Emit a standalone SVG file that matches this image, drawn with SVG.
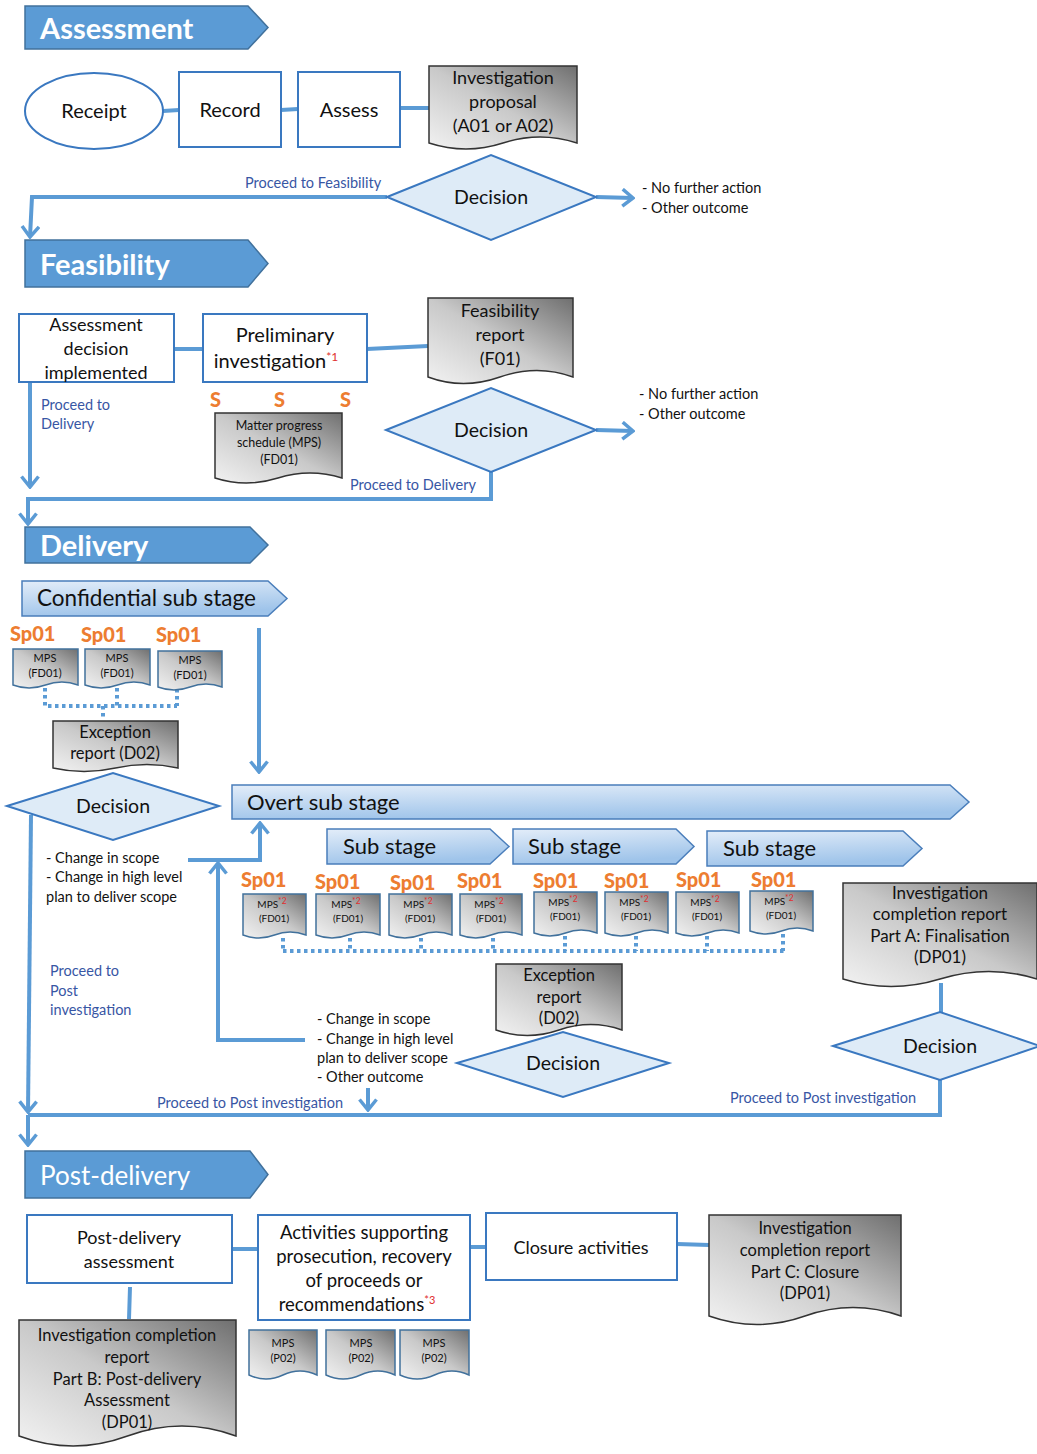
<svg xmlns="http://www.w3.org/2000/svg" width="1037" height="1454" viewBox="0 0 1037 1454">
<defs>
<linearGradient id="gd" x1="0" y1="1" x2="1" y2="0">
<stop offset="0" stop-color="#f2f2f2"/><stop offset="0.5" stop-color="#c9c9c9"/><stop offset="1" stop-color="#6f6f6f"/>
</linearGradient>
<linearGradient id="gs" x1="0" y1="0" x2="0.3" y2="1">
<stop offset="0" stop-color="#e3edf9"/><stop offset="1" stop-color="#9fc4ea"/>
</linearGradient>
<marker id="ar" viewBox="0 0 14 20" refX="12" refY="10" markerWidth="14" markerHeight="20" orient="auto" markerUnits="userSpaceOnUse">
<path d="M1.5,1.5 L12,10 L1.5,18.5" fill="none" stroke="#5B9BD5" stroke-width="3.5"/>
</marker>
<style>
text{font-family:Lato,"Liberation Sans",sans-serif;fill:#111}
.hdr{fill:#5B9BD5;stroke:#41719C;stroke-width:1.5}
.ht{fill:#fff;font-weight:bold;font-size:29px}
.sub{fill:url(#gs);stroke:#4a7ebb;stroke-width:1.5}
.st{font-size:22px}
.box{fill:#fff;stroke:#3a78c0;stroke-width:2}
.dia{fill:#deebf7;stroke:#3a78c0;stroke-width:2}
.doc{fill:url(#gd);stroke:#333;stroke-width:1.5}
.mdoc{fill:url(#gd);stroke:#41719C;stroke-width:1.5}
.n{font-size:18.5px;text-anchor:middle}
.n17{font-size:18px;text-anchor:middle}
.n15{font-size:16.5px;text-anchor:middle}
.dt{font-size:19.5px;text-anchor:middle}
.sm{font-size:14.5px}
.pl{font-size:14.5px;fill:#3856a4}
.sp{font-size:20px;font-weight:900;fill:#ED7D31}
.mp{font-size:11px;text-anchor:middle}
.mp2{font-size:10px;text-anchor:middle}
.red{fill:#e03030}
.cn{fill:none;stroke:#5B9BD5;stroke-width:4}
.dot{fill:none;stroke:#5B9BD5;stroke-width:4;stroke-dasharray:3.5,3.5}
</style>
</defs>
<rect width="1037" height="1454" fill="#fff"/>

<g id="connectors">
<path class="cn" d="M163,111 L179,110"/>
<path class="cn" d="M281,110 L298,109"/>
<path class="cn" d="M400,108 L429,108"/>
<path class="cn" d="M596,197 L633,198" marker-end="url(#ar)"/>
<path class="cn" d="M387,197 L32,197 L30,237" marker-end="url(#ar)"/>
<path class="cn" d="M174,349 L203,349"/>
<path class="cn" d="M367,349 L428,346"/>
<path class="cn" d="M596,430 L633,431" marker-end="url(#ar)"/>
<path class="cn" d="M30,382 L30,487" marker-end="url(#ar)"/>
<path class="cn" d="M491,472 L491,499 L28,499 L28,524" marker-end="url(#ar)"/>
<path class="cn" d="M259,628 L259,772" marker-end="url(#ar)"/>
<path class="cn" d="M31,815 L28,1112" marker-end="url(#ar)"/>
<path class="cn" d="M28,1115 L940,1115 L940,1080"/>
<path class="cn" d="M28,1115 L28,1145" marker-end="url(#ar)"/>
<path class="cn" d="M305,1040 L218,1040 L218,863" marker-end="url(#ar)"/>
<path class="cn" d="M188,860 L260,860 L260,823" marker-end="url(#ar)"/>
<path class="cn" d="M368,1088 L368,1110" marker-end="url(#ar)"/>
<path class="cn" d="M941,983 L941,1012"/>
<path class="cn" d="M232,1249 L258,1249"/>
<path class="cn" d="M470,1247 L486,1247"/>
<path class="cn" d="M677,1244 L709,1245"/>
<path class="cn" d="M130,1287 L129,1319"/>
<path class="dot" d="M45,688 V706 H177 M117,688 V706 M177,689 V706 M103,706 V720"/>
<path class="dot" d="M283,951 H785 M283,938 V951 M350,938 V951 M421,938 V951 M493,938 V951 M565,936 V951 M636,936 V951 M707,936 V951 M783,934 V951"/>
</g>

<g id="lbl-conn">
<text class="pl" x="245" y="188">Proceed to Feasibility</text>
<text class="pl" x="41" y="410">Proceed to</text>
<text class="pl" x="41" y="429">Delivery</text>
<text class="pl" x="350" y="490">Proceed to Delivery</text>
<text class="pl" x="50" y="976">Proceed to</text>
<text class="pl" x="50" y="996">Post</text>
<text class="pl" x="50" y="1015">investigation</text>
<text class="pl" x="157" y="1108">Proceed to Post investigation</text>
<text class="pl" x="730" y="1103">Proceed to Post investigation</text>
<text class="sm" x="642" y="193">- No further action</text>
<text class="sm" x="642" y="213">- Other outcome</text>
<text class="sm" x="639" y="399">- No further action</text>
<text class="sm" x="639" y="419">- Other outcome</text>
<text class="sm" x="46" y="863">- Change in scope</text>
<text class="sm" x="46" y="882">- Change in high level</text>
<text class="sm" x="46" y="902">plan to deliver scope</text>
<text class="sm" x="317" y="1024">- Change in scope</text>
<text class="sm" x="317" y="1044">- Change in high level</text>
<text class="sm" x="317" y="1063">plan to deliver scope</text>
<text class="sm" x="317" y="1082">- Other outcome</text>
</g>

<g id="stage-assessment"><path class="hdr" d="M25,6 H248 L268,27.5 L248,49 H25 Z"/><text class="ht" x="40" y="39">Assessment</text></g>
<g id="receipt"><ellipse cx="94" cy="111" rx="69" ry="38" class="box"/><text class="n" x="94" y="118" style="font-size:20px">Receipt</text></g>
<g id="record"><rect class="box" x="179" y="72" width="102" height="75"/><text class="n" x="230" y="117" style="font-size:20px">Record</text></g>
<g id="assess"><rect class="box" x="298" y="72" width="102" height="75"/><text class="n" x="349" y="117" style="font-size:20px">Assess</text></g>
<g id="inv-proposal"><path class="doc" d="M429,66 H577 V143 Q540,131 503,143 T429,143 Z"/>
<text class="n17" x="503" y="84">Investigation</text><text class="n17" x="503" y="108">proposal</text><text class="n17" x="503" y="132">(A01 or A02)</text></g>
<g id="decision1"><path class="dia" d="M387,197 L491,155 L596,197 L491,240 Z"/><text class="dt" x="491" y="204">Decision</text></g>

<g id="stage-feasibility"><path class="hdr" d="M25,240 H248 L268,263.5 L248,287 H25 Z"/><text class="ht" x="40" y="275">Feasibility</text></g>
<g id="adi"><rect class="box" x="19" y="314" width="155" height="68"/>
<text class="n17" x="96" y="331">Assessment</text><text class="n17" x="96" y="355">decision</text><text class="n17" x="96" y="379">implemented</text></g>
<g id="prelim"><rect class="box" x="203" y="314" width="164" height="68"/>
<text class="n" x="285" y="342" style="font-size:20px">Preliminary</text>
<text x="276" y="368" style="font-size:20px;text-anchor:middle">investigation<tspan class="red" dy="-7" style="font-size:12px">*1</tspan></text></g>
<g id="feas-report"><path class="doc" d="M428,298 H573 V377 Q537,364 500,377 T428,377 Z"/>
<text class="n17" x="500" y="317">Feasibility</text><text class="n17" x="500" y="341">report</text><text class="n17" x="500" y="365">(F01)</text></g>
<g id="s-labels"><text class="sp" x="210" y="407">S</text><text class="sp" x="274" y="407">S</text><text class="sp" x="340" y="407">S</text></g>
<g id="mps-feas"><path class="doc" d="M215,413 H342 V478 Q310,468 278,478 T215,478 Z"/>
<text class="mp" x="279" y="430" style="font-size:12.5px">Matter progress</text><text class="mp" x="279" y="447" style="font-size:12.5px">schedule (MPS)</text><text class="mp" x="279" y="464" style="font-size:12.5px">(FD01)</text></g>
<g id="decision2"><path class="dia" d="M386,430 L491,388 L596,430 L491,472 Z"/><text class="dt" x="491" y="437">Decision</text></g>

<g id="stage-delivery"><path class="hdr" d="M25,527 H250 L268,545 L250,563 H25 Z"/><text class="ht" x="40" y="556">Delivery</text></g>
<g id="confidential"><path class="sub" d="M22,581 H268 L287,598.5 L268,616 H22 Z"/><text class="st" x="37" y="606" style="font-size:22.5px">Confidential sub stage</text></g>
<g id="conf-sp"><text class="sp" x="10" y="641">Sp01</text><text class="sp" x="81" y="642">Sp01</text><text class="sp" x="156" y="642">Sp01</text></g>
<g id="conf-mps1"><path class="mdoc" d="M13,649 H78 V685 Q62,679 45.5,685 T13,685 Z"/><text class="mp" x="45" y="662">MPS</text><text class="mp" x="45" y="677">(FD01)</text></g>
<g id="conf-mps2"><path class="mdoc" d="M85,649 H150 V685 Q134,679 117.5,685 T85,685 Z"/><text class="mp" x="117" y="662">MPS</text><text class="mp" x="117" y="677">(FD01)</text></g>
<g id="conf-mps3"><path class="mdoc" d="M158,651 H222 V687 Q206,681 190,687 T158,687 Z"/><text class="mp" x="190" y="664">MPS</text><text class="mp" x="190" y="679">(FD01)</text></g>
<g id="conf-exception"><path class="doc" d="M53,721 H178 V768 Q147,761 115.5,768 T53,768 Z"/>
<text class="n15" x="115" y="738">Exception</text><text class="n15" x="115" y="759">report (D02)</text></g>
<g id="decision3"><path class="dia" d="M7,806 L113,773 L219,806 L113,840 Z"/><text class="dt" x="113" y="813">Decision</text></g>

<g id="overt"><path class="sub" d="M232,785 H950 L969,802 L950,819 H232 Z"/><text class="st" x="247" y="810">Overt sub stage</text></g>
<g id="sub1"><path class="sub" d="M327,829 H490 L509,846.5 L490,864 H327 Z"/><text class="st" x="343" y="854">Sub stage</text></g>
<g id="sub2"><path class="sub" d="M513,829 H676 L694,846.5 L676,864 H513 Z"/><text class="st" x="528" y="854">Sub stage</text></g>
<g id="sub3"><path class="sub" d="M707,831 H903 L922,848.5 L903,866 H707 Z"/><text class="st" x="723" y="856">Sub stage</text></g>
<g id="overt-sp"><text class="sp" x="241" y="887">Sp01</text><text class="sp" x="315" y="889">Sp01</text><text class="sp" x="390" y="890">Sp01</text><text class="sp" x="457" y="888">Sp01</text><text class="sp" x="533" y="888">Sp01</text><text class="sp" x="604" y="888">Sp01</text><text class="sp" x="676" y="887">Sp01</text><text class="sp" x="751" y="887">Sp01</text></g>
<g id="overt-mps1"><path class="mdoc" d="M243,894 H306 V935 Q290,929 274.5,935 T243,935 Z"/><text class="mp2" x="272" y="908">MPS<tspan class="red" dy="-4" style="font-size:8.5px">*2</tspan></text><text class="mp2" x="274" y="922">(FD01)</text></g>
<g id="overt-mps2"><path class="mdoc" d="M316,894 H380 V935 Q364,929 348,935 T316,935 Z"/><text class="mp2" x="346" y="908">MPS<tspan class="red" dy="-4" style="font-size:8.5px">*2</tspan></text><text class="mp2" x="348" y="922">(FD01)</text></g>
<g id="overt-mps3"><path class="mdoc" d="M389,894 H452 V935 Q436,929 420.5,935 T389,935 Z"/><text class="mp2" x="418" y="908">MPS<tspan class="red" dy="-4" style="font-size:8.5px">*2</tspan></text><text class="mp2" x="420" y="922">(FD01)</text></g>
<g id="overt-mps4"><path class="mdoc" d="M460,894 H522 V935 Q506,929 491,935 T460,935 Z"/><text class="mp2" x="489" y="908">MPS<tspan class="red" dy="-4" style="font-size:8.5px">*2</tspan></text><text class="mp2" x="491" y="922">(FD01)</text></g>
<g id="overt-mps5"><path class="mdoc" d="M534,892 H597 V933 Q581,927 565.5,933 T534,933 Z"/><text class="mp2" x="563" y="906">MPS<tspan class="red" dy="-4" style="font-size:8.5px">*2</tspan></text><text class="mp2" x="565" y="920">(FD01)</text></g>
<g id="overt-mps6"><path class="mdoc" d="M605,892 H668 V933 Q652,927 636.5,933 T605,933 Z"/><text class="mp2" x="634" y="906">MPS<tspan class="red" dy="-4" style="font-size:8.5px">*2</tspan></text><text class="mp2" x="636" y="920">(FD01)</text></g>
<g id="overt-mps7"><path class="mdoc" d="M676,892 H739 V933 Q723,927 707.5,933 T676,933 Z"/><text class="mp2" x="705" y="906">MPS<tspan class="red" dy="-4" style="font-size:8.5px">*2</tspan></text><text class="mp2" x="707" y="920">(FD01)</text></g>
<g id="overt-mps8"><path class="mdoc" d="M750,891 H813 V931 Q797,925 781.5,931 T750,931 Z"/><text class="mp2" x="779" y="905">MPS<tspan class="red" dy="-4" style="font-size:8.5px">*2</tspan></text><text class="mp2" x="781" y="919">(FD01)</text></g>
<g id="overt-exception"><path class="doc" d="M496,964 H622 V1030 Q591,1019 559,1030 T496,1030 Z"/>
<text class="n15" x="559" y="981">Exception</text><text class="n15" x="559" y="1003">report</text><text class="n15" x="559" y="1024">(D02)</text></g>
<g id="decision5"><path class="dia" d="M457,1063 L563,1032 L669,1063 L563,1097 Z"/><text class="dt" x="563" y="1070">Decision</text></g>
<g id="icr-a"><path class="doc" d="M843,883 H1037 V979 Q989,964 940,979 T843,979 Z"/>
<text class="n15" x="940" y="899" style="font-size:17px">Investigation</text><text class="n15" x="940" y="920" style="font-size:17px">completion report</text><text class="n15" x="940" y="942" style="font-size:17px">Part A: Finalisation</text><text class="n15" x="940" y="963" style="font-size:17px">(DP01)</text></g>
<g id="decision4"><path class="dia" d="M833,1046 L940,1012 L1040,1046 L940,1080 Z"/><text class="dt" x="940" y="1053">Decision</text></g>

<g id="stage-postdelivery"><path class="hdr" d="M25,1151 H250 L268,1174.5 L250,1198 H25 Z"/><text class="ht" x="40" y="1185" style="font-weight:normal;font-size:26px">Post-delivery</text></g>
<g id="pda"><rect class="box" x="27" y="1215" width="205" height="68"/><text class="n17" x="129" y="1244">Post-delivery</text><text class="n17" x="129" y="1268">assessment</text></g>
<g id="activities"><rect class="box" x="258" y="1215" width="212" height="105"/>
<text class="n17" x="364" y="1239" style="font-size:18.5px">Activities supporting</text><text class="n17" x="364" y="1263" style="font-size:18.5px">prosecution, recovery</text><text class="n17" x="364" y="1287" style="font-size:18.5px">of proceeds or</text>
<text x="357" y="1311" style="font-size:18.5px;text-anchor:middle">recommendations<tspan class="red" dy="-7" style="font-size:11px">*3</tspan></text></g>
<g id="closure"><rect class="box" x="486" y="1213" width="191" height="67"/><text class="n17" x="581" y="1254">Closure activities</text></g>
<g id="icr-c"><path class="doc" d="M709,1215 H901 V1316 Q853,1299 805,1316 T709,1316 Z"/>
<text class="n15" x="805" y="1234">Investigation</text><text class="n15" x="805" y="1256">completion report</text><text class="n15" x="805" y="1278">Part C: Closure</text><text class="n15" x="805" y="1299">(DP01)</text></g>
<g id="icr-b"><path class="doc" d="M19,1320 H236 V1436 Q182,1416 127.5,1436 T19,1436 Z"/>
<text class="n15" x="127" y="1341">Investigation completion</text><text class="n15" x="127" y="1363">report</text><text class="n15" x="127" y="1385">Part B: Post-delivery</text><text class="n15" x="127" y="1406">Assessment</text><text class="n15" x="127" y="1428">(DP01)</text></g>
<g id="post-mps1"><path class="mdoc" d="M249,1330 H317 V1375 Q300,1367 283,1375 T249,1375 Z"/><text class="mp" x="283" y="1347">MPS</text><text class="mp" x="283" y="1362">(P02)</text></g>
<g id="post-mps2"><path class="mdoc" d="M326,1330 H395 V1375 Q378,1367 360.5,1375 T326,1375 Z"/><text class="mp" x="361" y="1347">MPS</text><text class="mp" x="361" y="1362">(P02)</text></g>
<g id="post-mps3"><path class="mdoc" d="M400,1330 H469 V1375 Q452,1367 434.5,1375 T400,1375 Z"/><text class="mp" x="434" y="1347">MPS</text><text class="mp" x="434" y="1362">(P02)</text></g>
</svg>
